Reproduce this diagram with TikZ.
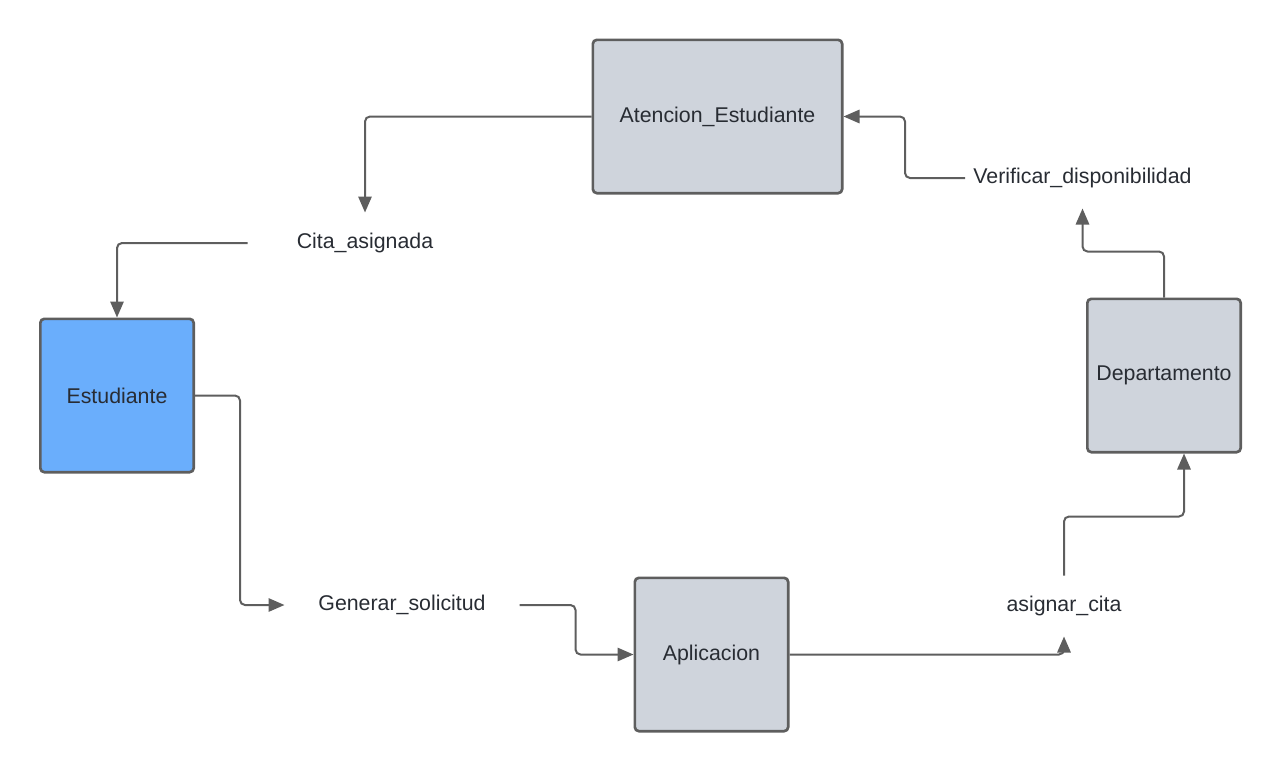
\documentclass[tikz,border=0pt]{standalone}
\usepackage{fontspec}
\setmainfont{Liberation Sans}
\usetikzlibrary{arrows.meta}

\definecolor{boxgray}{RGB}{207,212,220}
\definecolor{boxblue}{RGB}{106,174,252}
\definecolor{edgegray}{RGB}{94,94,94}
\definecolor{txtdark}{RGB}{40,44,51}

\tikzset{every picture/.style={line width=0.75pt}}
\tikzset{
	procbox/.style={draw=edgegray, line width=2pt, fill=boxgray, rounded corners=3pt, text=txtdark, inner sep=0pt, minimum width=115pt, minimum height=115pt, font=\fontsize{16}{19}\selectfont},
	flowlabel/.style={inner sep=0pt, minimum width=175.5pt, minimum height=45pt, text=txtdark, font=\fontsize{16}{19}\selectfont},
	flowline/.style={draw=edgegray, line width=1.5pt, rounded corners=3.75pt, -{Triangle[length=12pt,width=10pt]}}
}

\begin{document}
\begin{tikzpicture}[x=0.75pt,y=0.75pt,yscale=-1,xscale=1]
	\useasboundingbox (0,0) rectangle (1280,771);

	%Shape: Rectangle [id:aten] 
	\node [procbox, minimum width=187pt] (aten) at (717.5,116.5) {Atencion\_Estudiante};
	%Shape: Rectangle [id:estu] 
	\node [procbox, fill=boxblue] (estu) at (117,395.5) {Estudiante};
	%Shape: Rectangle [id:depto] 
	\node [procbox] (depto) at (1164,375.5) {Departamento};
	%Shape: Rectangle [id:apli] 
	\node [procbox] (apli) at (711.5,654.5) {Aplicacion};

	% Text Node
	\node [flowlabel] (cita) at (365,243) {Cita\_asignada};
	% Text Node
	\node [flowlabel] (gener) at (402,605) {Generar\_solicitud};
	% Text Node
	\node [flowlabel] (asig) at (1064,606) {asignar\_cita};
	% Text Node
	\node [flowlabel] (verif) at (1082.5,178) {Verificar\_disponibilidad};

	%Straight Lines [id:aten-cita] 
	\draw [flowline] (aten.west) -| (cita.north);
	%Straight Lines [id:cita-estu] 
	\draw [flowline] (cita.west) -| (estu.north);
	%Straight Lines [id:estu-gener] 
	\draw [flowline] (estu.east) -- ++(45,0) |- (gener.west);
	%Straight Lines [id:gener-apli] 
	\draw [flowline] (gener.east) -- ++(56,0) |- (apli.west);
	%Straight Lines [id:apli-asig] 
	\draw [flowline] (apli.east) -| (asig.south);
	%Straight Lines [id:asig-depto] 
	\draw [flowline] (asig.north) -- ++(0,-59) -| ([xshift=15pt]depto.south);
	%Straight Lines [id:depto-verif] 
	\draw [flowline] (depto.north) -- ++(0,-46) -| (verif.south);
	%Straight Lines [id:verif-aten] 
	\draw [flowline] (verif.west) -- ++(-60,0) |- (aten.east);

\end{tikzpicture}
\end{document}
